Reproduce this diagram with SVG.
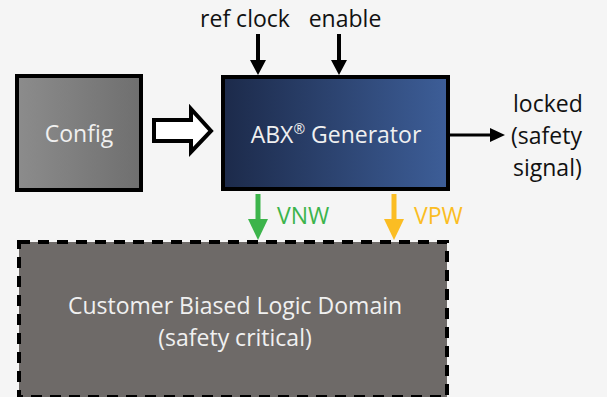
<svg xmlns="http://www.w3.org/2000/svg" width="607" height="397" viewBox="0 0 607 397">
<defs>
<linearGradient id="gCfg" x1="0" y1="0" x2="1" y2="0"><stop offset="0" stop-color="#8c8c8c"/><stop offset="1" stop-color="#6f6f6f"/></linearGradient>
<linearGradient id="gAbx" x1="0" y1="0" x2="1" y2="0"><stop offset="0" stop-color="#1c2a4a"/><stop offset="1" stop-color="#3d5e98"/></linearGradient>
<style>
text{font-family:"Open Sans","Noto Sans",sans-serif;font-size:23px}
.w{fill:#f0f0f0}
.k{fill:#111}
</style>
</defs>
<rect width="607" height="397" fill="#f5f5f5"/>
<g id="config">
<rect x="17" y="76" width="124" height="114" fill="url(#gCfg)" stroke="#000" stroke-width="4"/>
<text x="79" y="142" text-anchor="middle" class="w">Config</text>
</g>
<g id="abx">
<rect x="223" y="77" width="225" height="112" fill="url(#gAbx)" stroke="#000" stroke-width="4"/>
<text x="336" y="143" text-anchor="middle" class="w">ABX<tspan font-size="14" dy="-9">®</tspan><tspan dy="9"> Generator</tspan></text>
</g>
<g id="domain">
<rect x="19" y="242" width="428" height="155" fill="#6e6a68" stroke="#000" stroke-width="4" stroke-dasharray="11 8"/>
<text x="235" y="314" text-anchor="middle" class="w">Customer Biased Logic Domain</text>
<text x="235" y="346" text-anchor="middle" class="w">(safety critical)</text>
</g>
<g id="labels">
<text x="245" y="27" text-anchor="middle" class="k">ref clock</text>
<text x="345" y="27" text-anchor="middle" class="k">enable</text>
<text x="277" y="224" fill="#3cb44b">VNW</text>
<text x="414" y="224" fill="#fbbd23">VPW</text>
<text x="513" y="112" class="k">locked</text>
<text x="511" y="144" class="k">(safety</text>
<text x="513" y="176" class="k">signal)</text>
</g>
<g id="connectors">
<path d="M154 120 H191 V109 L211 131 L191 152 V141 H154 Z" fill="#fff" stroke="#000" stroke-width="4" stroke-linejoin="miter"/>
<line x1="258" y1="34" x2="258" y2="62" stroke="#000" stroke-width="4"/>
<polygon points="250,60 266,60 258,75" fill="#000"/>
<line x1="339" y1="34" x2="339" y2="62" stroke="#000" stroke-width="4"/>
<polygon points="331,60 347,60 339,75" fill="#000"/>
<line x1="258" y1="194" x2="258" y2="222" stroke="#3cb44b" stroke-width="5"/>
<polygon points="248,219 268,219 258,240" fill="#3cb44b"/>
<line x1="394" y1="194" x2="394" y2="222" stroke="#fbbd23" stroke-width="5"/>
<polygon points="384,219 404,219 394,240" fill="#fbbd23"/>
<line x1="450" y1="135" x2="492" y2="135" stroke="#000" stroke-width="3"/>
<polygon points="490,128 505,135 490,142" fill="#000"/>
</g>
</svg>
